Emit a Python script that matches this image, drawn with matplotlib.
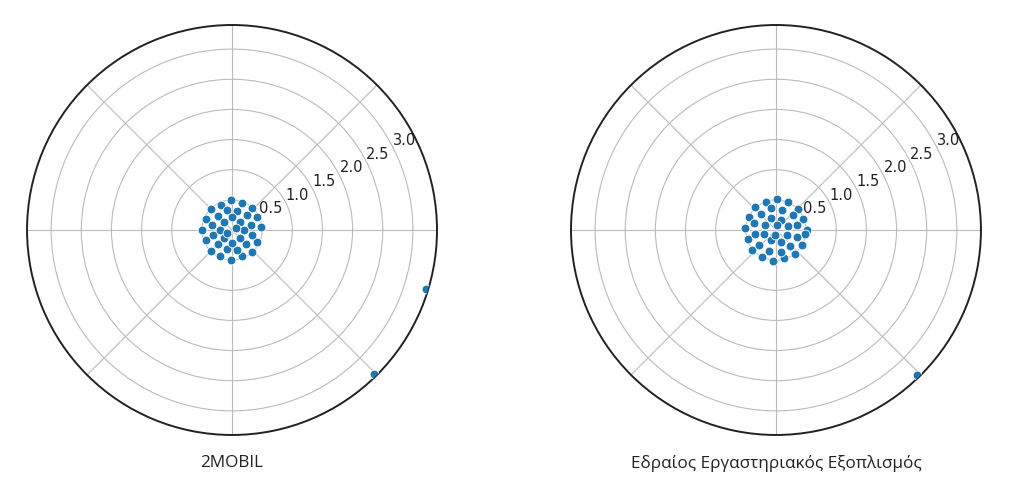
import numpy as np
import matplotlib.pyplot as plt

# cluster points near the centre (angle in degrees, radius)
left_theta = [5, 27, 48, 70, 92, 114, 136, 158, 180, 202, 224, 246, 268, 290, 312, 334,
              15, 45, 75, 105, 135, 165, 195, 225, 255, 285, 315, 345,
              0, 45, 90, 135, 180, 225, 270, 315,
              30, 210,
              -17, -45.5]
left_r = [0.48, 0.46, 0.49, 0.47, 0.50, 0.46, 0.49, 0.47, 0.50, 0.46, 0.49, 0.47, 0.50, 0.46, 0.49, 0.47,
          0.33, 0.35, 0.32, 0.34, 0.33, 0.35, 0.32, 0.34, 0.33, 0.35, 0.32, 0.34,
          0.20, 0.18, 0.21, 0.19, 0.20, 0.18, 0.21, 0.19,
          0.08, 0.09,
          3.36, 3.35]

right_theta = [0, 22, 44, 66, 88, 110, 132, 154, 176, 198, 220, 242, 264, 286, 308, 330, 352,
               12, 42, 72, 102, 132, 162, 192, 222, 252, 282, 312, 342,
               20, 65, 110, 155, 200, 245, 290, 335,
               80, 260,
               -45.8]
right_r = [0.52, 0.49, 0.51, 0.50, 0.52, 0.49, 0.51, 0.50, 0.52, 0.49, 0.51, 0.50, 0.52, 0.49, 0.51, 0.50, 0.49,
           0.36, 0.38, 0.35, 0.37, 0.36, 0.38, 0.35, 0.37, 0.36, 0.38, 0.35, 0.37,
           0.21, 0.19, 0.22, 0.20, 0.21, 0.19, 0.22, 0.20,
           0.09, 0.08,
           3.36]

titles = ["2MOBIL", "Εδραίος Εργαστηριακός Εξοπλισμός"]
rticks = [0.5, 1.0, 1.5, 2.0, 2.5, 3.0]
rmax = 3.4

fig = plt.figure(figsize=(10.09, 4.99), dpi=100)
boxes = [[0.0268, 0.1283, 0.4063, 0.8216], [0.5659, 0.1283, 0.4063, 0.8216]]
data = [(left_theta, left_r), (right_theta, right_r)]

for box, (th, r), title in zip(boxes, data, titles):
    ax = fig.add_axes(box, projection='polar')
    ax.scatter(np.deg2rad(th), r, s=40, color='#1f77b4', edgecolors='white', linewidths=0.6, zorder=3)
    ax.set_rlim(0, rmax)
    ax.set_rticks(rticks)
    ax.set_rlabel_position(27)
    ax.set_xticklabels([])
    ax.grid(True, color='#bbbbbb', linewidth=0.8)
    ax.spines['polar'].set_color('#222222')
    ax.spines['polar'].set_linewidth(1.4)
    for lab in ax.get_yticklabels():
        lab.set_fontfamily('DejaVu Sans')
        lab.set_fontsize(10.5)
        lab.set_color('#222222')
    fig.text(box[0] + box[2] / 2, 0.072, title, ha='center', va='center',
             fontsize=12.3, family=['Open Sans', 'DejaVu Sans'], color='#222222')

fig.savefig('out.png', dpi=100)
